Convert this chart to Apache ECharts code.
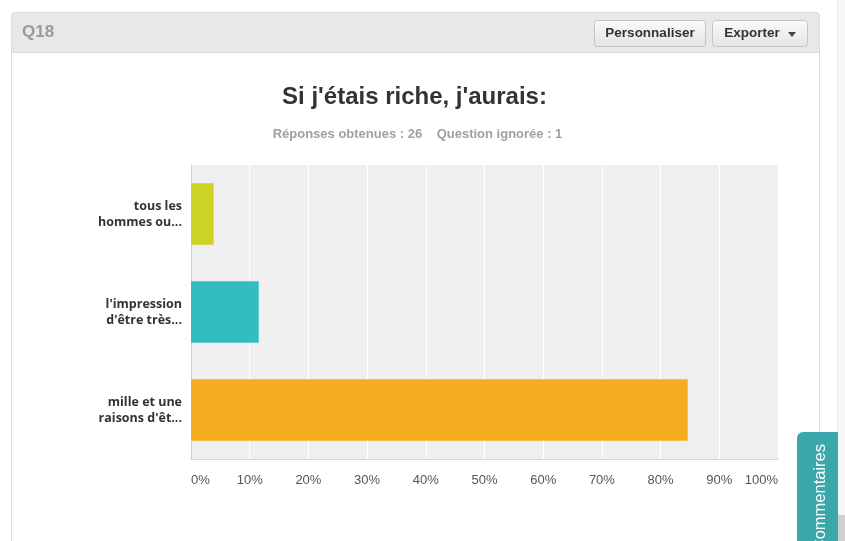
<!DOCTYPE html>
<html>
<head>
<meta charset="utf-8">
<script src="https://cdn.jsdelivr.net/npm/echarts@6/dist/echarts.min.js"></script>
<style>
html,body{margin:0;padding:0;background:#fff;}
#c{width:845px;height:541px;}
</style>
</head>
<body>
<div id="c"></div>
<script>
const categories = ["tous les\nhommes ou...", "l'impression\nd'être très...", "mille et une\nraisons d'êt..."];
const values = [3.85, 11.54, 84.62];
const barColors = ["#ccd327", "#33bdbe", "#f5ac1e"];
const titleText = "Si j'étais riche, j'aurais:";
const subText = "Réponses obtenues : 26    Question ignorée : 1";

const chart = echarts.init(document.getElementById('c'));
const F = "'Liberation Sans', Arial, sans-serif";
const OS = "'Open Sans', 'Liberation Sans', sans-serif";
chart.setOption({
  animation: false,
  backgroundColor: '#fff',
  graphic: [
    {type: 'rect', z: -10, shape: {x: 11.5, y: 12.5, width: 808, height: 540, r: 4},
     style: {fill: '#fff', stroke: '#dcdcdc', lineWidth: 1}},
    {type: 'rect', z: -9, shape: {x: 11.5, y: 12.5, width: 808, height: 40, r: [4, 4, 0, 0]},
     style: {fill: '#e8e8e8', stroke: '#dcdcdc', lineWidth: 1}},
    {type: 'text', z: 5, left: 22, top: 24,
     style: {text: 'Q18', font: 'bold 17px ' + F, fill: '#9a9a9a'}},
    {type: 'text', z: 5, x: 414.5, y: 97,
     style: {text: titleText, font: 'bold 24px ' + F, fill: '#333', align: 'center', verticalAlign: 'middle'}},
    {type: 'text', z: 5, x: 417.5, y: 134,
     style: {text: subText, font: 'bold 13px ' + F, fill: '#a0a0a0', align: 'center', verticalAlign: 'middle'}},
    {type: 'rect', z: 5, shape: {x: 594.5, y: 20.5, width: 111, height: 26, r: 3},
     style: {fill: new echarts.graphic.LinearGradient(0, 0, 0, 1, [{offset: 0, color: '#fafafa'}, {offset: 1, color: '#e4e4e4'}]), stroke: '#c4c4c4', lineWidth: 1}},
    {type: 'text', z: 6, x: 650, y: 33.5,
     style: {text: 'Personnaliser', font: 'bold 13.5px ' + F, fill: '#333', align: 'center', verticalAlign: 'middle'}},
    {type: 'rect', z: 5, shape: {x: 712.5, y: 20.5, width: 95, height: 26, r: 3},
     style: {fill: new echarts.graphic.LinearGradient(0, 0, 0, 1, [{offset: 0, color: '#fafafa'}, {offset: 1, color: '#e4e4e4'}]), stroke: '#c4c4c4', lineWidth: 1}},
    {type: 'text', z: 6, x: 752, y: 33.5,
     style: {text: 'Exporter', font: 'bold 13.5px ' + F, fill: '#333', align: 'center', verticalAlign: 'middle'}},
    {type: 'polygon', z: 6, shape: {points: [[788, 32], [796, 32], [792, 37]]}, style: {fill: '#444'}},
    {type: 'rect', z: -11, shape: {x: 837, y: 0, width: 8, height: 541}, style: {fill: '#f7f7f7'}},
    {type: 'line', z: -10, shape: {x1: 837.5, y1: 0, x2: 837.5, y2: 541}, style: {stroke: '#ececec', lineWidth: 1}},
    {type: 'rect', z: -10, shape: {x: 838, y: 515, width: 7, height: 26}, style: {fill: '#d0d0d0'}},
    {type: 'rect', z: 10, shape: {x: 797, y: 432, width: 41, height: 115, r: [6, 0, 0, 0]}, style: {fill: '#3aa8aa'}},
    {type: 'text', z: 11, x: 820, y: 444, rotation: Math.PI / 2,
     style: {text: 'Commentaires', font: '16.5px ' + F, fill: '#fff', align: 'right', verticalAlign: 'middle'}}
  ],
  grid: {left: 191, right: 67, top: 165, bottom: 82, show: true, backgroundColor: '#efefef', borderWidth: 0},
  xAxis: {
    type: 'value', min: 0, max: 100, interval: 10,
    axisLine: {show: true, lineStyle: {color: '#d6d6d6', width: 1}},
    axisTick: {show: false},
    splitLine: {show: true, lineStyle: {color: '#ffffff', width: 1}},
    axisLabel: {formatter: '{value}%', margin: 15, color: '#555', fontFamily: F, fontSize: 13,
      alignMinLabel: 'left', alignMaxLabel: 'right'}
  },
  yAxis: {
    type: 'category', data: categories, inverse: true,
    axisLine: {show: true, lineStyle: {color: '#d0d0d0'}},
    axisTick: {show: false},
    axisLabel: {color: '#333', fontFamily: OS, fontSize: 12.5, fontWeight: 'bold', lineHeight: 16, margin: 9, align: 'right'}
  },
  series: [{
    type: 'bar', barWidth: '63%',
    data: values.map((v, i) => ({value: v, itemStyle: {color: barColors[i]}}))
  }]
});
</script>
</body>
</html>
